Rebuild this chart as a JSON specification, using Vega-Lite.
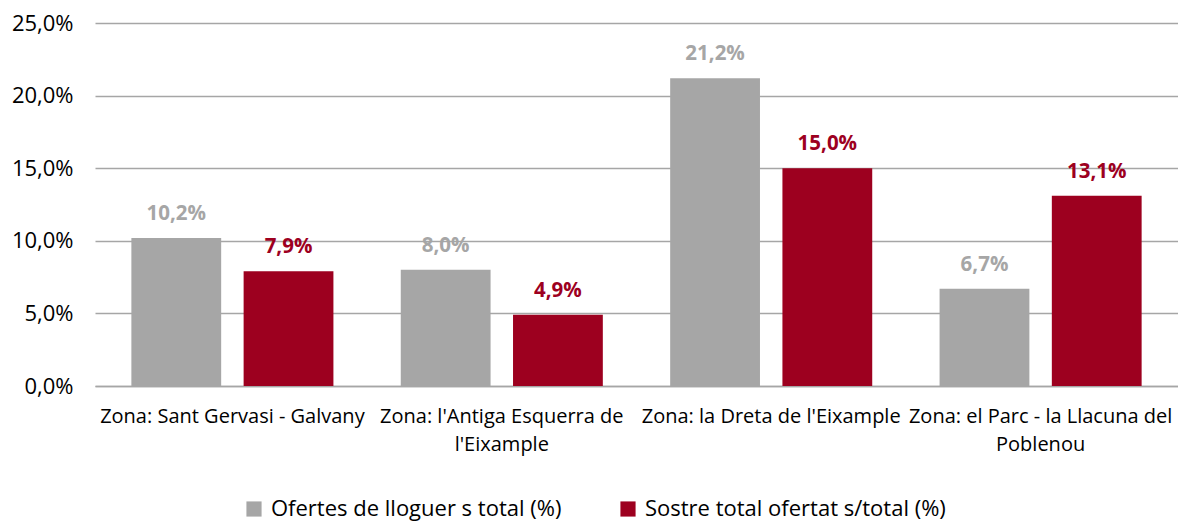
{
  "$schema": "https://vega.github.io/schema/vega-lite/v6.json",
  "width": 1083,
  "height": 363,
  "autosize": {"type": "none"},
  "padding": {"left": 95, "top": 23, "right": 0, "bottom": 137},
  "background": "white",
  "config": {
    "locale": {"number": {"decimal": ",", "thousands": ".", "grouping": [3], "currency": ["", " €"]}},
    "font": "Open Sans",
    "view": {"stroke": null}
  },
  "data": {
    "values": [
      {"zona": "Zona: Sant Gervasi - Galvany", "serie": "Ofertes de lloguer s total (%)", "valor": 0.102},
      {"zona": "Zona: Sant Gervasi - Galvany", "serie": "Sostre total ofertat s/total (%)", "valor": 0.079},
      {"zona": "Zona: l'Antiga Esquerra de l'Eixample", "serie": "Ofertes de lloguer s total (%)", "valor": 0.080},
      {"zona": "Zona: l'Antiga Esquerra de l'Eixample", "serie": "Sostre total ofertat s/total (%)", "valor": 0.049},
      {"zona": "Zona: la Dreta de l'Eixample", "serie": "Ofertes de lloguer s total (%)", "valor": 0.212},
      {"zona": "Zona: la Dreta de l'Eixample", "serie": "Sostre total ofertat s/total (%)", "valor": 0.150},
      {"zona": "Zona: el Parc - la Llacuna del Poblenou", "serie": "Ofertes de lloguer s total (%)", "valor": 0.067},
      {"zona": "Zona: el Parc - la Llacuna del Poblenou", "serie": "Sostre total ofertat s/total (%)", "valor": 0.131}
    ]
  },
  "encoding": {
    "x": {
      "field": "zona",
      "type": "nominal",
      "sort": null,
      "scale": {"paddingInner": 0.25, "paddingOuter": 0.135},
      "axis": {
        "title": null,
        "labelAngle": 0,
        "labelFontSize": 20,
        "labelColor": "#000000",
        "labelPadding": 20,
        "labelLineHeight": 28,
        "labelLimit": 320,
        "labelOverlap": false,
        "ticks": false,
        "domainColor": "#A6A6A6",
        "domainWidth": 1.5,
        "labelExpr": "indexof(datum.label,'Esquerra')>=0 ? [\"Zona: l'Antiga Esquerra de\", \"l'Eixample\"] : indexof(datum.label,'Parc')>=0 ? ['Zona: el Parc - la Llacuna del', 'Poblenou'] : datum.label"
      }
    },
    "xOffset": {
      "field": "serie",
      "type": "nominal",
      "scale": {"paddingInner": 0.2, "paddingOuter": 0}
    },
    "y": {
      "field": "valor",
      "type": "quantitative",
      "scale": {"domain": [0, 0.25]},
      "axis": {
        "title": null,
        "values": [0, 0.05, 0.1, 0.15, 0.2, 0.25],
        "format": ".1%",
        "labelFontSize": 22,
        "labelColor": "#000000",
        "labelPadding": 22,
        "ticks": false,
        "domain": false,
        "gridColor": "#A6A6A6",
        "gridWidth": 1.5
      }
    },
    "color": {
      "field": "serie",
      "type": "nominal",
      "scale": {"range": ["#A6A6A6", "#9D001F"]},
      "legend": {
        "title": null,
        "orient": "none",
        "direction": "horizontal",
        "legendX": 148,
        "legendY": 475,
        "symbolType": "square",
        "symbolSize": 230,
        "symbolStrokeWidth": 0,
        "labelFontSize": 22,
        "labelColor": "#000000",
        "labelOffset": 6,
        "labelLimit": 400,
        "columnPadding": 55
      }
    }
  },
  "layer": [
    {"mark": {"type": "bar"}},
    {
      "mark": {"type": "text", "dy": -14, "baseline": "bottom", "fontSize": 20.5, "fontWeight": "bold"},
      "encoding": {
        "y": {"field": "valor", "type": "quantitative"},
        "text": {"field": "valor", "type": "quantitative", "format": ".1%"}
      }
    }
  ]
}
